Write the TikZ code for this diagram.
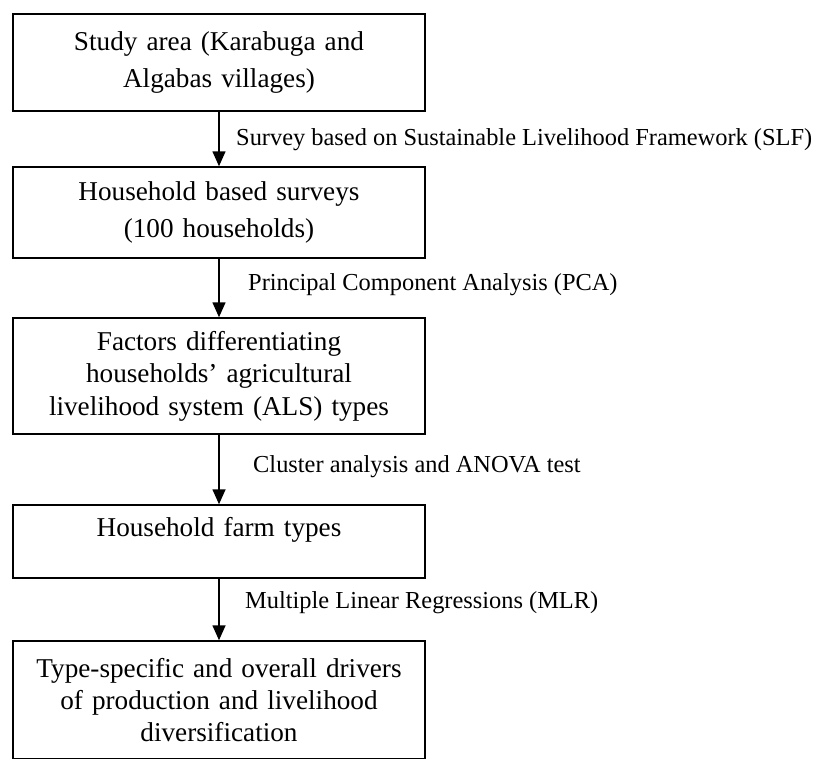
\documentclass[tikz,border=0pt]{standalone}
\usepackage{fontspec}
\setmainfont{Liberation Serif}
\usepackage{tikz}
\usetikzlibrary{arrows.meta, positioning}
\tikzset{
	stage_box/.style={rectangle, draw=black, line width=1.5pt, text width=380pt, inner xsep=16pt, inner ysep=6pt, align=center, font=\fontsize{27.2}{32.4}\selectfont},
	flow_arrow/.style={-{Triangle[width=13pt, length=15pt]}, draw=black, line width=1.6pt},
	method_label/.style={anchor=west, inner sep=0pt, font=\fontsize{24.4}{29}\selectfont}
}

\begin{document}
\begin{tikzpicture}[x=1pt, y=-1pt, node distance=56pt]
	\useasboundingbox (0,0) rectangle (819,758);
	\node[stage_box, minimum height=97pt] (b1) at (219,62.5) {Study area (Karabuga and\\[4.6pt] Algabas villages)};
	\node[stage_box, minimum height=91pt, below=54.5pt of b1] (b2) {Household based surveys\\[4.6pt] (100 households)};
	\node[stage_box, minimum height=116pt, below=58.5pt of b2] (b3) {Factors differentiating\\ households' agricultural\\ livelihood system (ALS) types};
	\node[stage_box, minimum height=73pt, text depth=29pt, below=69.5pt of b3] (b4) {Household farm types};
	\node[stage_box, minimum height=118pt, below=61.5pt of b4] (b5) {Type-specific and overall drivers\\ of production and livelihood\\ diversification};
	\draw[flow_arrow] (b1) -- (b2);
	\draw[flow_arrow] (b2) -- (b3);
	\draw[flow_arrow] (b3) -- (b4);
	\draw[flow_arrow] (b4) -- (b5);
	\node[method_label] (m1) at (236,140) {Survey based on Sustainable Livelihood Framework (SLF)};
	\node[method_label] (m2) at (248,285) {Principal Component Analysis (PCA)};
	\node[method_label] (m3) at (253,467) {Cluster analysis and ANOVA test};
	\node[method_label] (m4) at (245,603) {Multiple Linear Regressions (MLR)};
\end{tikzpicture}
\end{document}
